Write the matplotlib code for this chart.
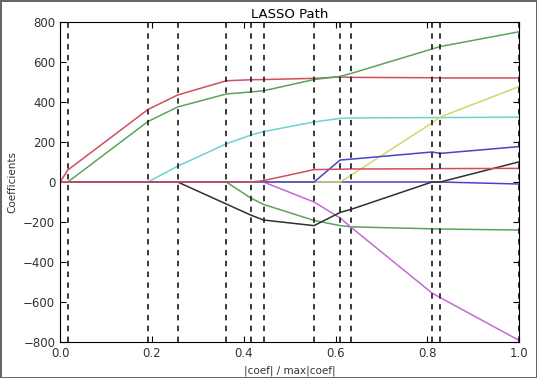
import numpy as np
import matplotlib
matplotlib.use("Agg")
import matplotlib.pyplot as plt

# breakpoints of the path, |coef| / max|coef|
xx = [0.0, 0.0168, 0.191, 0.256, 0.362, 0.415, 0.443, 0.553, 0.610, 0.633, 0.810, 0.828, 1.0]

# coefficient of each feature at each breakpoint
age = [0, 0, 0, 0, 0, 0, 0, 0, 0, 0, 0, 0, -10]
sex = [0, 0, 0, 0, 0, -80, -112, -192, -218, -224, -234, -235, -240]
bmi = [0, 60, 362, 435, 506, 511, 512, 518, 525, 523, 521, 520, 520]
bp = [0, 0, 0, 79, 191, 234, 252, 300, 318, 320, 322, 322, 324]
s1 = [0, 0, 0, 0, 0, 0, 0, -100, -180, -225, -555, -578, -792]
s2 = [0, 0, 0, 0, 0, 0, 0, 0, 0, 33, 295, 325, 477]
s3 = [0, 0, 0, 0, -110, -165, -190, -218, -152, -137, 0, 0, 101]
s4 = [0, 0, 0, 0, 0, 0, 0, 0, 110, 114, 150, 143, 177]
s5 = [0, 0, 302, 375, 440, 450, 456, 512, 528, 542, 665, 677, 751]
s6 = [0, 0, 0, 0, 0, 0, 7, 62, 64, 65, 66, 67, 68]

coefs = [age, sex, bmi, bp, s1, s2, s3, s4, s5, s6]
colors = ["#4646c8", "#5aa45a", "#d04e60", "#6ad4cc", "#c46ad4",
          "#d4d66a", "#303030", "#4646c8", "#5aa45a", "#d04e60"]

fig = plt.figure(figsize=(5.37, 3.78), dpi=100)
fig.patch.set_facecolor("white")
fig.patch.set_edgecolor("#666666")
fig.patch.set_linewidth(2)
ax = fig.add_axes([0.112, 0.095, 0.855, 0.847])

for c, col in zip(coefs, colors):
    ax.plot(xx, c, color=col, lw=1.1)

# dashed markers at each breakpoint, drawn over the paths
ymin, ymax = -800, 800
for x in xx:
    ax.plot([x, x], [ymin, ymax], color="#2a2a2a", lw=1.3, dashes=(3, 3))

ax.set_xlim(0, 1)
ax.set_ylim(ymin, ymax)
ax.set_xticks(np.arange(0, 1.01, 0.2))
ax.set_yticks(np.arange(-800, 801, 200))
ax.tick_params(direction="in", top=True, right=True, labelsize=8.5, length=4,
               labelcolor="#333333")
ax.set_xlabel("|coef| / max|coef|", fontsize=7.5, color="#333333")
ax.set_ylabel("Coefficients", fontsize=7.5, color="#333333")
ax.set_title("LASSO Path", fontsize=9.5, pad=3)

fig.savefig("out.png", dpi=100)
